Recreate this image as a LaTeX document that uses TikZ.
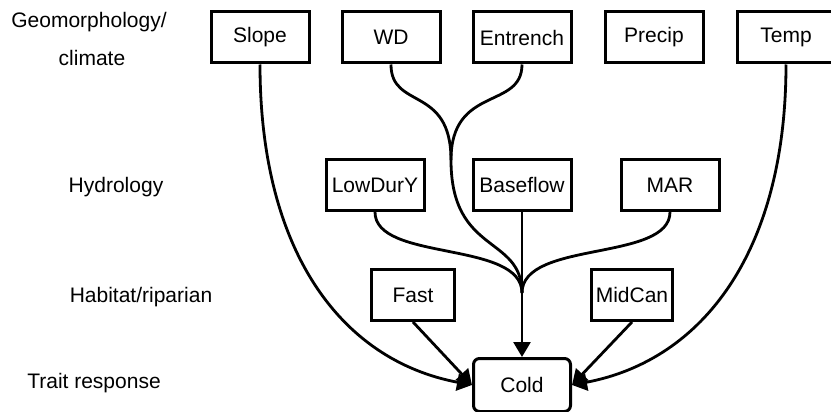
\documentclass[tikz,border=0pt]{standalone}
\usepackage{fontspec}
\setmainfont{Liberation Sans}
\usetikzlibrary{arrows.meta}
\begin{document}
\begin{tikzpicture}[x=1pt,y=-1pt,
  box/.style={draw,line width=3pt,minimum width=98pt,minimum height=51pt,inner sep=2pt,font=\fontsize{21}{25}\selectfont},
  lab/.style={font=\fontsize{21}{25}\selectfont},
  conn/.style={line width=2.8pt},
  arr/.style={conn,-{Triangle[length=15pt,width=17pt]}}]
\useasboundingbox (0,0) rectangle (831,412);
\node[box] (slope) at (260,37.5) {Slope};
\node[box] (wd) at (391,37.5) {WD};
\node[box] (entrench) at (522,37.5) {Entrench};
\node[box] (precip) at (654,37.5) {Precip};
\node[box] (temp) at (786,37.5) {Temp};
\node[box] (lowdury) at (375,185) {LowDurY};
\node[box] (baseflow) at (522,185) {Baseflow};
\node[box] (mar) at (670,185) {MAR};
\node[box,minimum width=83pt] (fast) at (413,295) {Fast};
\node[box,minimum width=81pt] (midcan) at (632,295) {MidCan};
\node[box,rounded corners=6pt,minimum width=97pt,minimum height=53pt] (cold) at (522,385) {Cold};
\node[lab] (l1) at (89,22) {Geomorphology/};
\node[lab] (l2) at (92,58) {climate};
\node[lab] (l3) at (116,187) {Hydrology};
\node[lab] (l4) at (141,297) {Habitat/riparian};
\node[lab] (l5) at (94,383) {Trait response};
\coordinate (m) at (522,293);
\coordinate (j) at (451,160);
\draw[arr] (baseflow.south) -- (cold.north);
\draw[conn] (lowdury.south) .. controls (375,262) and (522,240) .. (m);
\draw[conn] (mar.south) .. controls (670,262) and (522,240) .. (m);
\draw[conn] (wd.south) .. controls (391,110) and (451,85) .. (j);
\draw[conn] (entrench.south) .. controls (522,110) and (451,85) .. (j);
\draw[conn] (j) .. controls (451,255) and (522,235) .. (m);
\draw[arr] (slope.south) .. controls (260,250) and (340,360) .. (cold.west);
\draw[arr] (temp.south) .. controls (786,250) and (704,360) .. (cold.east);
\draw[arr] (fast.south) -- (cold.west);
\draw[arr] (midcan.south) -- (cold.east);
\end{tikzpicture}
\end{document}
